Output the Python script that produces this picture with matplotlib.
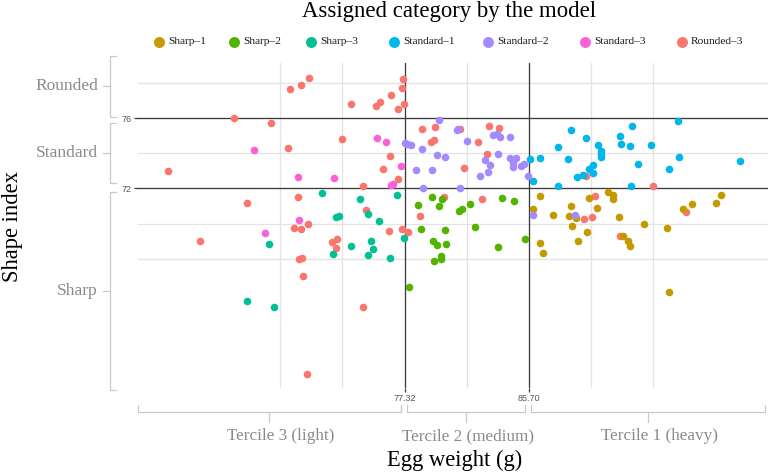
import matplotlib
matplotlib.use("Agg")
import matplotlib.pyplot as plt
from matplotlib.transforms import blended_transform_factory
from matplotlib.lines import Line2D

W, H, DPI = 774, 474, 100

# ---------------- data ----------------
categories = ["Sharp–1", "Sharp–2", "Sharp–3", "Standard–1", "Standard–2", "Standard–3", "Rounded–3"]
colors = ["#C49A00", "#53B400", "#00C094", "#00B6EB", "#A58AFF", "#FB61D7", "#F8766D"]

sharp1_x = [86.46, 85.98, 87.33, 88.43, 88.59, 88.89, 88.66, 89.81, 90.33, 91.05, 91.43, 91.39, 91.79, 89.65,
            89.06, 86.46, 86.66, 92.08, 92.42, 92.58, 93.48, 95.05, 96.12, 96.75, 98.37, 98.69, 95.21]
sharp1_y = [71.56, 70.85, 70.49, 70.45, 71.02, 70.31, 69.87, 71.46, 70.89, 71.78, 71.63, 71.40, 70.40, 69.51,
            69.00, 68.90, 68.34, 69.32, 69.03, 68.73, 70.00, 69.74, 70.85, 71.12, 71.19, 71.65, 66.12]

sharp2_x = [79.16, 79.83, 79.63, 78.25, 81.73, 81.18, 81.00, 83.89, 84.72, 78.41, 80.06, 82.10, 79.25, 79.52,
            80.15, 79.77, 79.79, 79.29, 83.66, 85.44, 77.64]
sharp2_y = [71.52, 71.39, 71.02, 71.06, 71.12, 70.85, 70.74, 71.46, 71.29, 69.70, 69.64, 69.83, 69.02, 68.77,
            68.86, 68.16, 67.98, 67.86, 68.68, 69.11, 66.42]

sharp3_x = [71.75, 74.31, 76.83, 74.83, 72.67, 72.89, 75.62, 68.14, 73.72, 75.06, 75.17, 72.49, 74.83, 76.36,
            77.29, 66.70, 68.50]
sharp3_y = [71.73, 71.42, 71.63, 70.57, 70.36, 70.45, 70.14, 68.83, 68.73, 69.02, 68.58, 68.28, 68.20, 68.07,
            69.17, 65.59, 65.28]

standard1_x = [85.80, 86.46, 86.02, 87.67, 88.35, 87.71, 88.55, 89.56, 89.00, 89.36, 89.79, 90.08, 90.08, 90.42,
               90.60, 90.62, 90.62, 91.88, 91.95, 92.58, 92.71, 93.12, 93.99, 92.65, 95.80, 95.85, 95.21, 99.97]
standard1_y = [73.68, 73.72, 72.43, 74.38, 73.68, 72.13, 75.34, 74.87, 72.65, 72.75, 73.11, 73.32, 72.86, 74.45,
               74.15, 73.94, 73.81, 75.00, 74.51, 74.41, 75.57, 73.41, 74.45, 72.13, 75.84, 73.81, 73.09, 73.58]

standard2_x = [79.67, 80.85, 80.96, 77.33, 77.51, 77.74, 78.48, 81.52, 83.28, 83.59, 83.79, 84.47, 79.54, 80.06,
               82.74, 83.10, 83.62, 84.45, 84.83, 84.65, 84.67, 85.21, 85.39, 78.12, 79.16, 82.98, 82.40, 85.64,
               78.59, 81.05, 85.98, 88.84]
standard2_y = [75.88, 75.31, 75.36, 74.57, 74.51, 74.45, 74.24, 74.70, 75.02, 75.10, 74.94, 74.91, 73.89, 73.77,
               73.62, 73.35, 73.94, 73.72, 73.72, 73.43, 73.24, 73.30, 73.39, 73.05, 73.05, 72.95, 72.69, 72.69,
               72.05, 72.05, 70.48, 70.49]

standard3_x = [75.44, 76.09, 67.17, 77.06, 70.14, 72.54, 76.39, 76.56, 70.19, 67.89]
standard3_y = [74.87, 74.64, 74.17, 73.28, 72.65, 72.61, 72.18, 72.27, 70.23, 69.47]

rounded3_x = [70.87, 70.35, 69.60, 77.24, 77.15, 76.43, 73.72, 75.68, 75.37, 76.88, 77.29, 65.82, 68.30, 73.10,
              69.45, 61.32, 76.32, 75.85, 76.88, 74.54, 66.70, 70.14, 74.70, 70.82, 69.83, 70.31, 63.50, 76.25,
              77.15, 77.54, 72.74, 72.42, 72.67, 70.39, 70.21, 70.48, 74.50, 70.71,
              78.52, 79.36, 79.13, 79.31, 81.09, 82.31, 83.03, 83.73, 82.89, 81.32, 79.99, 78.37, 82.56,
              89.56, 94.11, 90.19, 89.45, 90.01, 91.88, 96.37]
rounded3_y = [78.26, 77.86, 77.64, 78.20, 77.69, 77.33, 76.80, 76.93, 76.67, 76.53, 76.82, 76.01, 75.70, 74.81,
              74.28, 72.98, 73.85, 73.09, 72.56, 72.13, 71.19, 71.53, 70.76, 69.97, 69.74, 69.68, 69.03, 69.60,
              69.70, 69.53, 69.11, 68.98, 68.60, 68.05, 67.98, 67.05, 65.25, 61.44,
              75.38, 75.48, 74.64, 74.74, 75.38, 74.64, 75.53, 75.44, 73.98, 73.18, 71.50, 70.45, 71.39,
              72.71, 72.13, 71.59, 70.27, 70.40, 69.30, 70.66]

weight_breaks = [77.32, 85.70]
weight_break_labels = ["77.32", "85.70"]
shape_breaks = [72, 76]
shape_break_labels = ["72", "76"]
shape_labels = ["Sharp", "Standard", "Rounded"]
tercile_labels = ["Tercile 3 (light)", "Tercile 2 (medium)", "Tercile 1 (heavy)"]

series_x = [sharp1_x, sharp2_x, sharp3_x, standard1_x, standard2_x, standard3_x, rounded3_x]
series_y = [sharp1_y, sharp2_y, sharp3_y, standard1_y, standard2_y, standard3_y, rounded3_y]

# ---------------- layout ----------------
XLIM = (59.28, 101.88)
YLIM = (60.66, 79.13)
SERIF = ["Liberation Serif", "DejaVu Serif"]
SANS = ["Liberation Sans", "DejaVu Sans"]


def fx(px):
    return px / W


def fy(py):
    return 1 - py / H


fig = plt.figure(figsize=(W / DPI, H / DPI), dpi=DPI)
ax = fig.add_axes([fx(137.5), fy(388), fx(768) - fx(137.5), fy(63) - fy(388)])
ax.set_xlim(*XLIM)
ax.set_ylim(*YLIM)
for s in ax.spines.values():
    s.set_visible(False)


def minor_breaks(b):
    step = b[1] - b[0]
    ext = [b[0] - step] + list(b) + [b[-1] + step]
    mids = [(ext[i] + ext[i + 1]) / 2 for i in range(len(ext) - 1)]
    return sorted(set(ext + mids))


for v in minor_breaks(weight_breaks):
    if v not in weight_breaks:
        ax.axvline(v, color="#e3e3e3", lw=0.9, zorder=0)
for v in minor_breaks(shape_breaks):
    if v not in shape_breaks and YLIM[0] < v < YLIM[1]:
        ax.axhline(v, color="#e3e3e3", lw=0.9, zorder=0)

for v in weight_breaks:
    ax.axvline(v, color="#3c3c3c", lw=0.95, zorder=1)
for v in shape_breaks:
    ax.axhline(v, color="#3c3c3c", lw=0.95, zorder=1)

ax.set_xticks(weight_breaks)
ax.set_xticklabels(weight_break_labels)
ax.set_yticks(shape_breaks)
ax.set_yticklabels(shape_break_labels)
ax.tick_params(axis="both", length=3, width=0.9, color="#3c3c3c", labelcolor="#555555",
               labelsize=6.5, pad=1.5)
for t in ax.get_xticklabels() + ax.get_yticklabels():
    t.set_fontfamily(SANS)

# points: Rounded-3 underneath, then the others
order = [6, 0, 1, 2, 3, 4, 5]
for i in order:
    ax.scatter(series_x[i], series_y[i], s=30, color=colors[i], linewidths=0, zorder=3)

# ---------------- y brackets ----------------
bracket_col = "#c9c9c9"
label_col = "#8a8a8a"
ty = blended_transform_factory(fig.transFigure, ax.transData)
y_ranges = [(60.57, 71.80), (72.31, 75.72), (76.07, 79.53)]
xv = fx(110)
for (lo, hi), lab in zip(y_ranges, shape_labels):
    fig.add_artist(Line2D([fx(116), xv, xv, fx(116)], [lo, lo, hi, hi], transform=ty,
                          color=bracket_col, lw=0.9))
    mid = (lo + hi) / 2
    fig.add_artist(Line2D([fx(103), xv], [mid, mid], transform=ty, color=bracket_col, lw=0.9))
    fig.text(fx(98), mid, lab, transform=ty, ha="right", va="center", fontsize=12.5,
             color=label_col, family=SERIF)

# ---------------- x brackets ----------------
tx = blended_transform_factory(ax.transData, fig.transFigure)
x_ranges = [(59.28, 77.08), (77.47, 85.46), (85.85, 101.68)]
label_x = [68.96, 81.58, 94.55]
for (lo, hi), lab, lx in zip(x_ranges, tercile_labels, label_x):
    fig.add_artist(Line2D([lo, lo, hi, hi], [fy(405), fy(411.7), fy(411.7), fy(405)], transform=tx,
                          color=bracket_col, lw=0.9))
    mid = (lo + hi) / 2
    fig.add_artist(Line2D([mid, mid], [fy(411.7), fy(421.7)], transform=tx, color=bracket_col, lw=0.9))
    fig.text(lx, fy(440), lab, transform=tx, ha="center", va="baseline", fontsize=12.3,
             color=label_col, family=SERIF)

# ---------------- titles ----------------
fig.text(fx(455), fy(466), "Egg weight (g)", ha="center", va="baseline", fontsize=16.3,
         color="black", family=SERIF)
fig.text(fx(18.5), fy(226), "Shape index", rotation=90, rotation_mode="anchor", ha="center",
         va="baseline", fontsize=16.3, color="black", family=SERIF)
fig.text(fx(449), fy(17.5), "Assigned category by the model", ha="center", va="baseline",
         fontsize=16.4, color="black", family=SERIF)

# ---------------- legend ----------------
legend_px = [159, 234, 311, 394, 488, 585, 682]
for px, cat, col in zip(legend_px, categories, colors):
    fig.add_artist(Line2D([fx(px)], [fy(41.7)], marker="o", markersize=7.9, color=col,
                          markeredgewidth=0, linestyle="none", transform=fig.transFigure))
    fig.text(fx(px + 9), fy(41.7), cat, ha="left", va="center", fontsize=8.2,
             color="#1a1a1a", family=SERIF)

fig.savefig("out.png", dpi=DPI)
